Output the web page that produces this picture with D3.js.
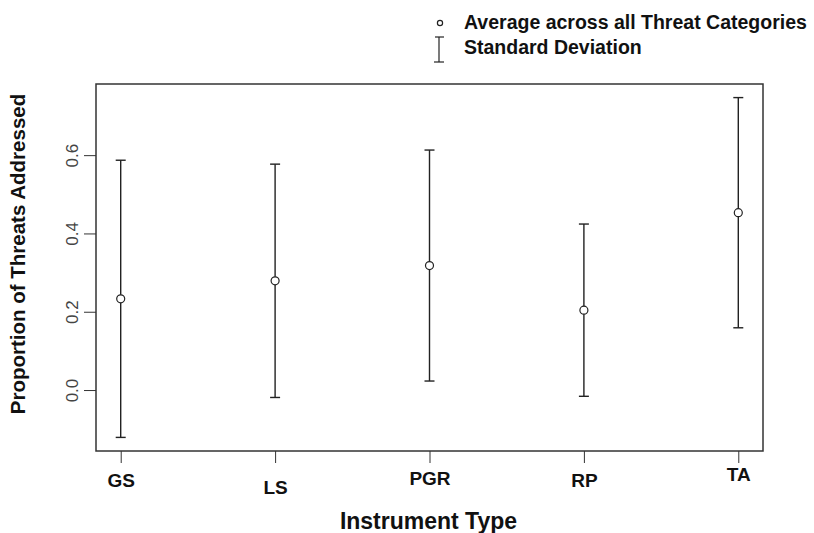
<!DOCTYPE html>
<html>
<head>
<meta charset="utf-8">
<script src="https://cdn.jsdelivr.net/npm/d3@7"></script>
<style>
  body { margin: 0; background: #fff; }
  svg { font-family: "Liberation Sans", Arial, sans-serif; }
</style>
</head>
<body>
<div id="chart"></div>
<script>
// data
var instruments = ["GS", "LS", "PGR", "RP", "TA"];
var means = [0.233, 0.279, 0.318, 0.204, 0.453];
var sds = [0.354, 0.298, 0.295, 0.220, 0.294];
var yTicks = [0.0, 0.2, 0.4, 0.6];
// little vertical jitter of the category labels, as in the original
var labelShift = [0, 7, -2, 0, -6];

var W = 814, H = 533;
var margin = {top: 84, right: 51, bottom: 82, left: 96},
    width = W - margin.left - margin.right,
    height = H - margin.top - margin.bottom;

var svg = d3.select("#chart")
  .append("svg")
    .attr("width", W)
    .attr("height", H);

var g = svg.append("g")
    .attr("transform", "translate(" + margin.left + "," + margin.top + ")");

// R style scales, 4% padding on each side
var x = d3.scaleLinear()
  .domain([0.84, 5.16])
  .range([0, width]);

var lo = d3.min(means.map(function(m, i) { return m - sds[i]; }));
var hi = d3.max(means.map(function(m, i) { return m + sds[i]; }));
var pad = (hi - lo) * 0.04;
var y = d3.scaleLinear()
  .domain([lo - pad, hi + pad])
  .range([height, 0]);

// box
g.append("rect")
  .attr("x", 0).attr("y", 0)
  .attr("width", width).attr("height", height)
  .attr("fill", "none")
  .attr("stroke", "#333")
  .attr("stroke-width", 1.5);

// y axis
var yAxis = g.append("g")
  .call(d3.axisLeft(y).tickValues(yTicks).tickSize(12).tickFormat(d3.format(".1f")));
yAxis.select(".domain").remove();
yAxis.selectAll(".tick line").attr("stroke", "#333");
yAxis.selectAll(".tick text")
  .attr("x", 0).attr("dy", 0)
  .attr("transform", "translate(-18,0) rotate(-90)")
  .attr("text-anchor", "middle")
  .attr("fill", "#444")
  .style("font-size", "17px");

// x axis
var xAxis = g.append("g")
  .attr("transform", "translate(0," + height + ")")
  .call(d3.axisBottom(x).tickValues(d3.range(1, 6)).tickSize(12)
    .tickFormat(function(d) { return instruments[d - 1]; }));
xAxis.select(".domain").remove();
xAxis.selectAll(".tick line").attr("stroke", "#333");
xAxis.selectAll(".tick text")
  .attr("y", 0)
  .attr("dy", function(d) { return 36 + labelShift[d - 1]; })
  .attr("fill", "#111")
  .style("font-size", "19px")
  .style("font-weight", "bold");

// error bars
var cap = 5;
var bars = g.selectAll(".sd")
  .data(means)
  .enter()
  .append("g")
    .attr("class", "sd")
    .attr("stroke", "#222")
    .attr("stroke-width", 1.4);
bars.append("line")
  .attr("x1", function(d, i) { return x(i + 1); })
  .attr("x2", function(d, i) { return x(i + 1); })
  .attr("y1", function(d, i) { return y(d - sds[i]); })
  .attr("y2", function(d, i) { return y(d + sds[i]); });
bars.append("line")
  .attr("x1", function(d, i) { return x(i + 1) - cap; })
  .attr("x2", function(d, i) { return x(i + 1) + cap; })
  .attr("y1", function(d, i) { return y(d + sds[i]); })
  .attr("y2", function(d, i) { return y(d + sds[i]); });
bars.append("line")
  .attr("x1", function(d, i) { return x(i + 1) - cap; })
  .attr("x2", function(d, i) { return x(i + 1) + cap; })
  .attr("y1", function(d, i) { return y(d - sds[i]); })
  .attr("y2", function(d, i) { return y(d - sds[i]); });

// mean points
g.selectAll(".pt")
  .data(means)
  .enter()
  .append("circle")
    .attr("class", "pt")
    .attr("cx", function(d, i) { return x(i + 1); })
    .attr("cy", function(d) { return y(d); })
    .attr("r", 4)
    .attr("fill", "#fff")
    .attr("stroke", "#222")
    .attr("stroke-width", 1.2);

// axis titles
svg.append("text")
  .attr("x", margin.left + width / 2 - 1)
  .attr("y", 529)
  .attr("text-anchor", "middle")
  .style("font-size", "23px")
  .style("font-weight", "bold")
  .attr("fill", "#111")
  .text("Instrument Type");

svg.append("text")
  .attr("transform", "translate(25,254) rotate(-90)")
  .attr("text-anchor", "middle")
  .style("font-size", "20.5px")
  .style("font-weight", "bold")
  .attr("fill", "#111")
  .text("Proportion of Threats Addressed");

// legend
var leg = svg.append("g");
leg.append("circle")
  .attr("cx", 440).attr("cy", 23).attr("r", 2.6)
  .attr("fill", "#fff").attr("stroke", "#222").attr("stroke-width", 1.2);
leg.append("line").attr("x1", 439).attr("x2", 439).attr("y1", 37).attr("y2", 62)
  .attr("stroke", "#222").attr("stroke-width", 1.2);
leg.append("line").attr("x1", 435).attr("x2", 444).attr("y1", 37).attr("y2", 37)
  .attr("stroke", "#222").attr("stroke-width", 1.2);
leg.append("line").attr("x1", 434).attr("x2", 444).attr("y1", 62).attr("y2", 62)
  .attr("stroke", "#222").attr("stroke-width", 1.2);
leg.append("text")
  .attr("x", 464).attr("y", 29)
  .style("font-size", "19.5px").style("font-weight", "bold").attr("fill", "#111")
  .text("Average across all Threat Categories");
leg.append("text")
  .attr("x", 464).attr("y", 54)
  .style("font-size", "19.5px").style("font-weight", "bold").attr("fill", "#111")
  .text("Standard Deviation");
</script>
</body>
</html>
